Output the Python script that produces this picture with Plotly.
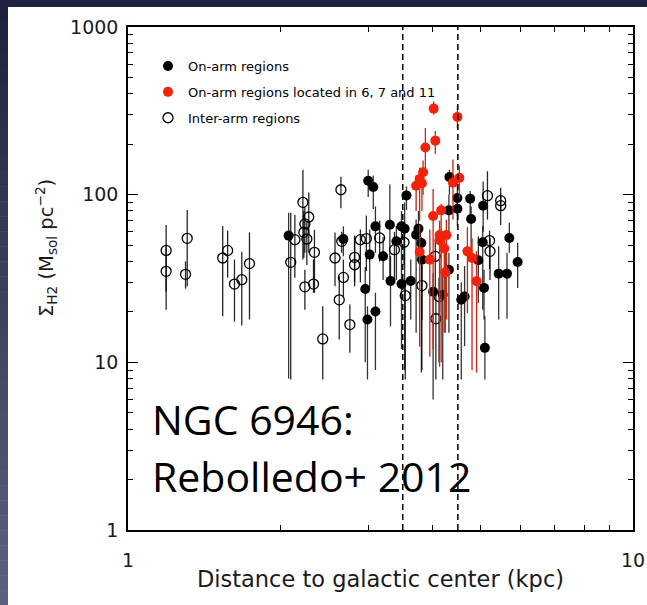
import plotly.graph_objects as go

# ---------------- data ----------------
# Inter-arm regions (open circles): distance (kpc), Sigma_H2, upper and lower ends of error bar
inter_x = [1.19, 1.19, 1.31, 1.30, 1.54, 1.575, 1.625, 1.68, 1.74, 2.10, 2.14, 2.22, 2.28, 2.24,
           2.23, 2.26, 2.34, 2.24, 2.33, 2.43, 2.64, 2.57, 2.65, 2.67, 2.62, 2.75, 2.81, 2.81,
           2.885, 2.965, 3.15, 5.15, 5.47, 5.47, 3.52, 3.37, 4.06, 5.20, 5.21, 3.82, 3.54, 4.13, 4.07]
inter_y = [46.5, 34.9, 54.9, 33.5, 41.9, 46.5, 29.3, 31.1, 38.8, 39.5, 53.9, 90, 73.6, 66.9,
           59.6, 54.4, 45.3, 28.2, 29.3, 13.8, 107, 41.9, 52.7, 32.1, 23.6, 16.8, 42.3, 38.2,
           53.9, 54.7, 55.2, 98.6, 92.1, 86, 52, 47, 42.9, 53.2, 45.9, 28.7, 25.0, 24.7, 18.2]
inter_hi = [66, 49, 81, 40, 65, 61, 41, 45.7, 59.6, 78, 76, 141, 103, 85,
            80, 70, 61.7, 35.7, 41, 21.6, 128, 59.4, 60, 41, 32.6, 22.1, 55, 57,
            62, 75, 70, 138, 110, 100, 62, 60, 55, 61, 55, 38, 31, 32, 26]
inter_lo = [26.4, 20.6, 28.4, 27.5, 18.8, 32, 17.5, 16.6, 18.0, 7.9, 32, 41, 45, 45,
            42, 38, 26.0, 20.6, 26, 7.9, 83, 28.4, 45, 24.7, 13.7, 11.4, 30, 28.4,
            30, 35, 40, 71, 80, 66, 38, 30, 25, 36, 31, 18, 7.9, 10, 7.9]

# On-arm regions (filled black)
arm_x = [2.08, 2.67, 2.99, 3.06, 3.09, 3.01, 3.20, 2.95, 3.09, 2.98, 3.30, 3.31, 3.56, 4.33,
         4.49, 4.49, 4.76, 4.32, 4.78, 5.05, 3.48, 3.53, 3.72, 3.76, 3.40, 3.81, 3.82, 4.32,
         4.94, 5.04, 5.69, 5.91, 5.42, 5.63, 3.48, 3.63, 4.02, 4.20, 4.57, 4.64, 5.07, 5.09]
arm_y = [57, 54.4, 121, 111, 64.7, 43.9, 42.9, 27.4, 20.1, 18.0, 66.2, 30.6, 99, 127.5,
         95.5, 82.5, 94.7, 80.6, 71.6, 86, 64.7, 62.7, 57.7, 62.7, 52.7, 51.5, 41.0, 35.7,
         40.6, 52, 55.2, 39.7, 33.8, 33.8, 29.3, 30.6, 26.4, 25.3, 23.6, 24.7, 27.8, 12.2]
arm_hi = [78, 64.7, 141, 130, 85, 62, 56, 37, 26, 21.6, 115, 43, 112, 141,
          115, 95, 105, 100, 85, 120, 80, 90, 71, 80, 65, 56, 50, 45,
          56.4, 65, 68, 51.6, 49.3, 45, 40, 41, 34, 33, 30, 37.5, 35.7, 18.8]
arm_lo = [8, 42.9, 97, 82, 45, 28, 31, 10, 9, 7.9, 31, 16.4, 81, 100,
          75, 65, 68, 60, 43, 60, 40, 9, 15, 40, 31, 8.7, 9, 15,
          22.6, 20.6, 45, 27.8, 18, 18.2, 12, 18, 6, 7.9, 7.9, 12.5, 18, 7.9]

# On-arm regions located in 6, 7 and 11 (filled red)
red_x = [4.03, 4.49, 4.06, 3.88, 3.84, 3.78, 3.72, 3.82, 4.40, 4.53, 4.17, 4.02, 4.14, 4.27,
         4.14, 4.23, 3.78, 3.96, 4.70, 4.80, 4.25, 4.90]
red_y = [326, 291, 210, 191, 136, 124, 113, 117, 118, 126, 80.6, 74.6, 57.4, 57.4,
         53.5, 47.8, 45.5, 41.0, 45.9, 41.9, 34.4, 30.5]
red_hi = [360, 340, 240, 250, 160, 145, 130, 140, 162, 150, 88, 108, 70, 71,
          65, 60, 66, 62, 64, 55, 45, 46]
red_lo = [300, 250, 175, 135, 100, 70, 80, 80, 71, 95, 10, 12, 9.4, 18,
          20, 15, 12.4, 10.8, 19.7, 9, 15, 8.7]

arm_bounds = [3.5, 4.5]          # dashed vertical lines (kpc)
x_tickvals = [1, 10]
y_tickvals = [1, 10, 100, 1000]
legend_names = ["On-arm regions", "On-arm regions located in 6, 7 and 11", "Inter-arm regions"]

# ---------------- figure ----------------
W, H = 647, 605
ML, MR, MT, MB = 128, 14, 27, 75
PW, PH = W - ML - MR, H - MT - MB

def err(y, hi, lo):
    return [h - v for v, h in zip(y, hi)], [v - l for v, l in zip(y, lo)]

fig = go.Figure()

ep, em = err(inter_y, inter_hi, inter_lo)
fig.add_trace(go.Scatter(
    x=inter_x, y=inter_y, mode="markers", name=legend_names[2], legendrank=3, legendgroup="c",
    marker=dict(symbol="circle-open", size=10, color="black", line=dict(width=1.3, color="black")),
    error_y=dict(type="data", symmetric=False, array=ep, arrayminus=em,
                 color="rgba(0,0,0,0.85)", thickness=1.3, width=0)))

ep, em = err(arm_y, arm_hi, arm_lo)
fig.add_trace(go.Scatter(
    x=arm_x, y=arm_y, mode="markers", name=legend_names[0], legendrank=1, legendgroup="a",
    marker=dict(symbol="circle", size=10, color="black"),
    error_y=dict(type="data", symmetric=False, array=ep, arrayminus=em,
                 color="rgba(0,0,0,0.8)", thickness=1.3, width=0)))

ep, em = err(red_y, red_hi, red_lo)
fig.add_trace(go.Scatter(
    x=red_x, y=red_y, mode="markers", name=legend_names[1], legendrank=2, legendgroup="b",
    marker=dict(symbol="circle", size=10, color="#f2230a"),
    error_y=dict(type="data", symmetric=False, array=ep, arrayminus=em,
                 color="rgb(205,35,15)", thickness=1.3, width=0)))

shapes = []
for xb in arm_bounds:
    shapes.append(dict(type="line", xref="x", yref="paper", x0=xb, x1=xb, y0=0, y1=1,
                       line=dict(color="black", width=1.5, dash="6px,4px"), layer="above"))

# slide background: dark band on top, gradient band on the left
def px2paper_x(px):
    return (px - ML) / PW

def px2paper_y(py):
    return (H - MB - py) / PH

shapes.append(dict(type="rect", xref="paper", yref="paper", layer="below",
                   x0=px2paper_x(-2), x1=px2paper_x(W + 2), y0=px2paper_y(7), y1=px2paper_y(-2),
                   line=dict(width=0), fillcolor="#21223d"))
n = 40
c0 = (33, 34, 61)
c1 = (92, 97, 128)
for i in range(n):
    t = i / (n - 1)
    col = "rgb(%d,%d,%d)" % tuple(round(a + (b - a) * t) for a, b in zip(c0, c1))
    y0 = 7 + (H - 7) * i / n
    y1 = 7 + (H - 7) * (i + 1) / n + 0.5
    shapes.append(dict(type="rect", xref="paper", yref="paper", layer="below",
                       x0=px2paper_x(-2), x1=px2paper_x(8), y0=px2paper_y(y1 + 2 if i == n - 1 else y1),
                       y1=px2paper_y(y0), line=dict(width=0), fillcolor=col))

tickfont = dict(family="DejaVu Sans", size=19, color="#1a1a1a")
axis_common = dict(showline=True, linecolor="black", linewidth=1.5, mirror="ticks",
                   ticks="inside", ticklen=10, tickwidth=1.3, tickcolor="black",
                   showgrid=False, zeroline=False, tickfont=tickfont, automargin=False)

fig.update_layout(
    width=W, height=H, margin=dict(l=ML, r=MR, t=MT, b=MB, autoexpand=False),
    paper_bgcolor="white", plot_bgcolor="white",
    shapes=shapes,
    xaxis=dict(type="log", range=[0, 1], tickmode="array", tickvals=x_tickvals,
               ticktext=[str(v) for v in x_tickvals], ticklabelstandoff=12,
               minor=dict(ticks="inside", ticklen=5, tickwidth=1.3, tickcolor="black",
                          tickmode="array", tickvals=[2, 3, 4, 5, 6, 7, 8, 9]),
               title=dict(text="Distance to galactic center (kpc)",
                          font=dict(family="DejaVu Sans", size=22.5, color="#1a1a1a"), standoff=2),
               **axis_common),
    yaxis=dict(type="log", range=[0, 3], tickmode="array", tickvals=y_tickvals,
               ticktext=[str(v) for v in y_tickvals], ticklabelstandoff=4,
               minor=dict(ticks="inside", ticklen=5, tickwidth=1.3, tickcolor="black",
                          tickmode="array",
                          tickvals=[2, 3, 4, 5, 6, 7, 8, 9, 20, 30, 40, 50, 60, 70, 80, 90,
                                    200, 300, 400, 500, 600, 700, 800, 900]),
               **axis_common),
    showlegend=True,
    legend=dict(x=px2paper_x(148), y=px2paper_y(51), xanchor="left", yanchor="top",
                bgcolor="rgba(0,0,0,0)", borderwidth=0, tracegroupgap=6,
                font=dict(family="DejaVu Sans", size=13, color="black")),
    annotations=[
        dict(text="Σ<sub>H2</sub> (M<sub>sol</sub> pc<sup>−2</sup>)", xref="paper", yref="paper",
             x=px2paper_x(46), y=px2paper_y(248), xanchor="center", yanchor="middle",
             textangle=-90, showarrow=False,
             font=dict(family="DejaVu Sans", size=19.5, color="#1a1a1a")),
        dict(text="NGC 6946:", xref="paper", yref="paper", x=px2paper_x(150), y=px2paper_y(419),
             xanchor="left", yanchor="middle", showarrow=False,
             font=dict(family="Open Sans", size=41, color="black")),
        dict(text="Rebolledo+ 2012", xref="paper", yref="paper", x=px2paper_x(150), y=px2paper_y(476),
             xanchor="left", yanchor="middle", showarrow=False,
             font=dict(family="Open Sans", size=41, color="black")),
    ],
)

fig.write_html("out.html")
